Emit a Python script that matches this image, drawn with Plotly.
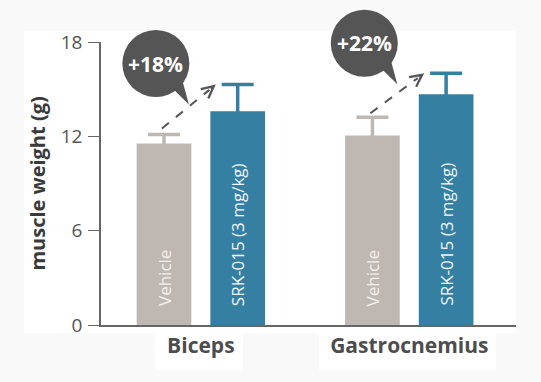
import math
import plotly.graph_objects as go

# ---------------- data ----------------
categories = ["Biceps", "Gastrocnemius"]
series_names = ["Vehicle", "SRK-015 (3 mg/kg)"]
vehicle_mean = [11.55, 12.05]
vehicle_err = [0.57, 1.17]
srk_mean = [13.6, 14.68]
srk_err = [1.69, 1.33]
pct_labels = ["+18%", "+22%"]
y_ticks = [0, 6, 12, 18]
y_title = "muscle weight (g)"

# ---------------- style ----------------
VEH_COLOR = "#bfb8b2"
SRK_COLOR = "#3580a2"
BUBBLE = "#555555"
FONT = "Open Sans"
W, H = 541, 382
M = dict(l=101, r=25, t=42, b=57)
X_RANGE = [-0.479, 1.512]
Y_RANGE = [0, 18]
BARGAP = 0.293
GROUPGAP = 0.258
OFF = (1 - BARGAP) / 4  # center offset of each bar inside its group
BUBBLE_LIFT = [0, 7]    # extra pixel lift of each speech bubble
ARROW_GAP = [0.38, 0.25]  # gap between vehicle error cap and arrow start
HIDDEN_MINUS = 0.3      # lower whisker hidden inside the bar (same colour)

x_pos = list(range(len(categories)))

fig = go.Figure()
fig.add_bar(
    x=x_pos, y=vehicle_mean, name=series_names[0],
    marker=dict(color=VEH_COLOR, line=dict(width=0)),
    error_y=dict(type="data", symmetric=False, array=vehicle_err,
                 arrayminus=[HIDDEN_MINUS] * len(vehicle_err), color=VEH_COLOR,
                 thickness=3.5, width=16),
)
fig.add_bar(
    x=x_pos, y=srk_mean, name=series_names[1],
    marker=dict(color=SRK_COLOR, line=dict(width=0)),
    error_y=dict(type="data", symmetric=False, array=srk_err,
                 arrayminus=[HIDDEN_MINUS] * len(srk_err), color=SRK_COLOR,
                 thickness=3.5, width=16),
)


def to_paper_x(x):
    return (x - X_RANGE[0]) / (X_RANGE[1] - X_RANGE[0])


def to_paper_y(y):
    return (y - Y_RANGE[0]) / (Y_RANGE[1] - Y_RANGE[0])


annotations = []
shapes = []

# background panels (subtle white cards on light grey page)
shapes.append(dict(type="rect", xref="paper", yref="paper", x0=-0.186, x1=1.0,
                   y0=-0.028, y1=1.041, fillcolor="white", line=dict(width=0),
                   layer="below"))
for bx0, bx1 in [(0.130, 0.342), (0.525, 0.952)]:
    shapes.append(dict(type="rect", xref="paper", yref="paper", x0=bx0, x1=bx1,
                       y0=-0.158, y1=-0.02, fillcolor="white", line=dict(width=0),
                       layer="below"))

R = 33.5
CX, CY = -33, 43
for i in x_pos:
    xs = i - OFF - 0.01
    ys = vehicle_mean[i] + vehicle_err[i] + ARROW_GAP[i]
    xe = i + OFF - 0.105
    ye = srk_mean[i] + srk_err[i]
    # dashed line
    fig.add_scatter(x=[xs, xe - 0.12 * (xe - xs)], y=[ys, ye - 0.12 * (ye - ys)],
                    mode="lines", line=dict(color=BUBBLE, width=2, dash="dash"),
                    hoverinfo="skip", showlegend=False)
    # arrow head
    annotations.append(dict(
        x=xe, y=ye, xref="x", yref="y", ax=xe - 0.12 * (xe - xs),
        ay=ye - 0.12 * (ye - ys), axref="x", ayref="y", text="",
        showarrow=True, arrowhead=5, arrowsize=1.3, arrowwidth=1.8,
        arrowcolor=BUBBLE, standoff=0))

    # speech bubble anchored near the arrow midpoint
    mx = to_paper_x((xs + xe) / 2)
    my = to_paper_y((ys + ye) / 2)
    cy = CY + BUBBLE_LIFT[i]
    shapes.append(dict(type="circle", xref="paper", yref="paper",
                       xsizemode="pixel", ysizemode="pixel", xanchor=mx, yanchor=my,
                       x0=CX - R, x1=CX + R, y0=cy - R, y1=cy + R,
                       fillcolor=BUBBLE, line=dict(width=0)))
    a1, a2 = math.radians(-56), math.radians(-30)
    p1 = (CX + 30 * math.cos(a1), cy + 30 * math.sin(a1))
    p2 = (CX + 30 * math.cos(a2), cy + 30 * math.sin(a2))
    tip_y = 2 + BUBBLE_LIFT[i]
    shapes.append(dict(type="path", xref="paper", yref="paper",
                       xsizemode="pixel", ysizemode="pixel", xanchor=mx, yanchor=my,
                       path=f"M 0 {tip_y} L {p1[0]:.1f} {p1[1]:.1f} L {p2[0]:.1f} {p2[1]:.1f} Z",
                       fillcolor=BUBBLE, line=dict(width=0)))
    annotations.append(dict(x=mx, y=my, xref="paper", yref="paper", xshift=CX,
                            yshift=cy, xanchor="center", yanchor="middle",
                            text=pct_labels[i], showarrow=False,
                            font=dict(family=FONT, size=21, color="white", weight="bold")))

    # labels inside bars
    annotations.append(dict(x=i - OFF, y=0, xref="x", yref="y", text=series_names[0],
                            textangle=-90, xanchor="center", yanchor="bottom", yshift=17,
                            showarrow=False,
                            font=dict(family=FONT, size=17, color="#f3f0ed")))
    annotations.append(dict(x=i + OFF, y=0, xref="x", yref="y", text=series_names[1],
                            textangle=-90, xanchor="center", yanchor="bottom", yshift=17,
                            showarrow=False,
                            font=dict(family=FONT, size=17, color="#f2f6f9")))

# y-axis title
annotations.append(dict(x=-0.154, y=0.5, xref="paper", yref="paper", text=y_title,
                        textangle=-90, xanchor="center", yanchor="middle", showarrow=False,
                        font=dict(family=FONT, size=20, color="#3a3a3a", weight="bold")))

fig.update_layout(
    width=W, height=H, margin=M,
    paper_bgcolor="#f9f9f9", plot_bgcolor="white",
    barmode="group", bargap=BARGAP, bargroupgap=GROUPGAP,
    showlegend=False,
    font=dict(family=FONT),
    shapes=shapes, annotations=annotations,
    xaxis=dict(range=X_RANGE, tickvals=x_pos, ticktext=categories, ticks="",
               showline=True, linecolor="#666666", linewidth=1.5, showgrid=False,
               zeroline=False, ticklabelstandoff=1,
               tickfont=dict(family=FONT, size=21, color="#4d4d4d", weight="bold")),
    yaxis=dict(range=Y_RANGE, tickvals=y_ticks, ticks="outside", ticklen=11,
               tickcolor="#666666", tickwidth=1.2, showline=True, linecolor="#666666",
               linewidth=1.5, showgrid=False, zeroline=False, ticklabelstandoff=2,
               tickfont=dict(family=FONT, size=19, color="#555555")),
)

fig.write_html(
    "out.html",
    config={"displayModeBar": False},
    post_script="document.body.style.margin='0';document.body.style.overflow='hidden';",
)
